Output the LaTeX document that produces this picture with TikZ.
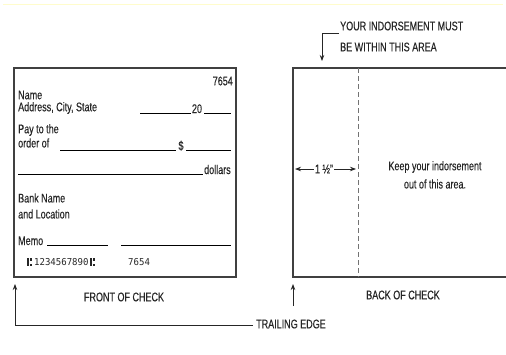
\documentclass[tikz,border=0pt]{standalone}
\usepackage{fontspec}
\setmainfont{Liberation Sans}[FakeStretch=0.72,FakeBold=0.3]
\newfontfamily\micrfont{DejaVu Sans Mono}[FakeStretch=0.95]
\usetikzlibrary{arrows.meta}
\begin{document}
\begin{tikzpicture}[x=1pt,y=-1pt,
  txt/.style={inner sep=0pt,font=\fontsize{12.5}{14}\selectfont,text=black!85},
  micr/.style={inner sep=0pt,font=\micrfont\fontsize{9.5}{11}\selectfont,text=black!85},
  boxline/.style={draw=black!75,line width=1.1pt},
  rule/.style={draw=black,line width=0.9pt},
  pointer/.style={draw=black!85,line width=0.8pt,-{Stealth[length=6pt,width=4.5pt]}},
  plain/.style={draw=black!85,line width=0.8pt},
  transit/.pic={
    \fill[black!85] (0,-3.8) rectangle (1.6,3.8);
    \fill[black!85] (2.6,-3.8) rectangle (4.9,-1.5);
    \fill[black!85] (2.6,1.5) rectangle (4.9,3.8);
  }]
\useasboundingbox (0,0) rectangle (506,354);
\draw[yellow!20,line width=0.6pt] (3,4) -- (503,4);
% front of check
\draw[boxline] (14,68) rectangle (236,277);
\node[txt,anchor=east] (num) at (233,81) {7654};
\node[txt,anchor=west] (name) at (18,95) {Name};
\node[txt,anchor=west] (addr) at (18,108) {Address, City, State};
\coordinate (d1) at (140,113); \coordinate (d2) at (191,113);
\draw[rule] (d1) -- (d2);
\node[txt,anchor=base] (yr) at (197,113) {20};
\coordinate (d3) at (204,113); \coordinate (d4) at (231,113);
\draw[rule] (d3) -- (d4);
\node[txt,anchor=west] (pay) at (18,130) {Pay to the};
\node[txt,anchor=west] (ord) at (18,143) {order of};
\coordinate (p1) at (60,150); \coordinate (p2) at (176,150);
\draw[rule] (p1) -- (p2);
\node[txt,anchor=base] (dol) at (181,150) {\$};
\coordinate (p3) at (186,150); \coordinate (p4) at (231,150);
\draw[rule] (p3) -- (p4);
\coordinate (l1) at (18,174); \coordinate (l2) at (203,174);
\draw[rule] (l1) -- (l2);
\node[txt,anchor=base west] (dollars) at (204,174) {dollars};
\node[txt,anchor=west] (bank) at (18,198) {Bank Name};
\node[txt,anchor=west] (loc) at (18,214) {and Location};
\node[txt,anchor=base west] (memo) at (18,245) {Memo};
\coordinate (m1) at (47,245); \coordinate (m2) at (108,245);
\draw[rule] (m1) -- (m2);
\coordinate (s1) at (121,245); \coordinate (s2) at (231,245);
\draw[rule] (s1) -- (s2);
\coordinate (tr1) at (27,262);
\pic at (tr1) {transit};
\node[micr,anchor=west] (micr) at (34,262) {1234567890};
\coordinate (tr2) at ([xshift=1.5pt]micr.east);
\pic at (tr2) {transit};
\node[micr,anchor=west] (micr2) at (128,262) {7654};
\node[txt] (front) at (124,297) {FRONT OF CHECK};
% back of check
\coordinate (b1) at (506,68); \coordinate (b2) at (293,68);
\coordinate (b3) at (293,277); \coordinate (b4) at (506,277);
\draw[boxline] (b1) -- (b2) -- (b3) -- (b4);
\coordinate (dt) at (358,68); \coordinate (db) at (358,277);
\draw[draw=black!55,line width=1pt,dash pattern=on 5pt off 3pt] (dt) -- (db);
\node[txt] (half) at (324,169) {1 ½"};
\coordinate (hl) at (295,169); \coordinate (hr) at (356,169);
\draw[pointer] (half.west) ++(-1,0) -- (hl);
\draw[pointer] (half.east) ++(1,0) -- (hr);
\node[txt] (keep1) at (435,167) {Keep your indorsement};
\node[txt] (keep2) at (435,184) {out of this area.};
\node[txt] (back) at (403,295) {BACK OF CHECK};
% top label
\node[txt,anchor=west] (must1) at (340,26) {YOUR INDORSEMENT MUST};
\node[txt,anchor=west] (must2) at (340,47) {BE WITHIN THIS AREA};
\coordinate (t1) at (339,33); \coordinate (t2) at (322,33); \coordinate (t3) at (322,61);
\draw[pointer] (t1) -- (t2) -- (t3);
% trailing edge
\node[txt,anchor=west] (trail) at (256,324) {TRAILING EDGE};
\coordinate (c1) at (15,325); \coordinate (c2) at (15,284);
\coordinate (c3) at (253,325);
\draw[plain] (c3) -- (c1);
\draw[pointer] (c1) -- (c2);
\coordinate (e1) at (293,306); \coordinate (e2) at (293,284);
\draw[pointer] (e1) -- (e2);
\end{tikzpicture}
\end{document}
